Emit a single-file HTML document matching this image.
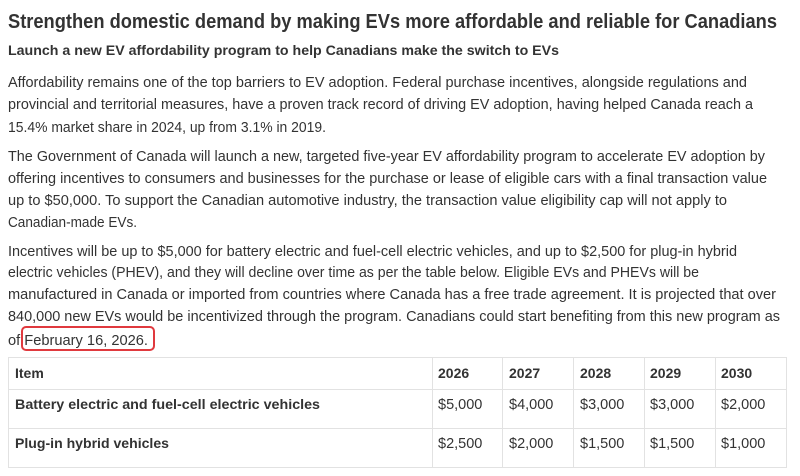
<!DOCTYPE html>
<html><head><meta charset="utf-8"><style>
html,body{margin:0;padding:0;background:#fff;width:800px;height:476px;overflow:hidden}
svg text{font-family:"Liberation Sans",sans-serif;fill:#333}
</style></head><body>
<svg width="800" height="476" xmlns="http://www.w3.org/2000/svg">
<text x="8" y="28" font-size="20" font-weight="bold" fill="#333" textLength="769" lengthAdjust="spacingAndGlyphs">Strengthen domestic demand by making EVs more affordable and reliable for Canadians</text>
<text x="8" y="55" font-size="14" font-weight="bold" textLength="551" lengthAdjust="spacingAndGlyphs">Launch a new EV affordability program to help Canadians make the switch to EVs</text>
<g font-size="14.5">
<text x="8" y="87" textLength="739" lengthAdjust="spacingAndGlyphs">Affordability remains one of the top barriers to EV adoption. Federal purchase incentives, alongside regulations and</text>
<text x="8" y="109" textLength="745" lengthAdjust="spacingAndGlyphs">provincial and territorial measures, have a proven track record of driving EV adoption, having helped Canada reach a</text>
<text x="8" y="132" textLength="318" lengthAdjust="spacingAndGlyphs">15.4% market share in 2024, up from 3.1% in 2019.</text>
<text x="8" y="161" textLength="757" lengthAdjust="spacingAndGlyphs">The Government of Canada will launch a new, targeted five-year EV affordability program to accelerate EV adoption by</text>
<text x="8" y="183" textLength="759" lengthAdjust="spacingAndGlyphs">offering incentives to consumers and businesses for the purchase or lease of eligible cars with a final transaction value</text>
<text x="8" y="205" textLength="719" lengthAdjust="spacingAndGlyphs">up to $50,000. To support the Canadian automotive industry, the transaction value eligibility cap will not apply to</text>
<text x="8" y="227" textLength="129" lengthAdjust="spacingAndGlyphs">Canadian-made EVs.</text>
<text x="8" y="256" textLength="729" lengthAdjust="spacingAndGlyphs">Incentives will be up to $5,000 for battery electric and fuel-cell electric vehicles, and up to $2,500 for plug-in hybrid</text>
<text x="8" y="277" textLength="691" lengthAdjust="spacingAndGlyphs">electric vehicles (PHEV), and they will decline over time as per the table below. Eligible EVs and PHEVs will be</text>
<text x="8" y="299" textLength="768" lengthAdjust="spacingAndGlyphs">manufactured in Canada or imported from countries where Canada has a free trade agreement. It is projected that over</text>
<text x="8" y="321" textLength="772" lengthAdjust="spacingAndGlyphs">840,000 new EVs would be incentivized through the program. Canadians could start benefiting from this new program as</text>
<text x="8" y="345" textLength="140" lengthAdjust="spacingAndGlyphs">of February 16, 2026.</text>
</g>
<rect x="22" y="327" width="132" height="23" rx="4" fill="none" stroke="#e0393e" stroke-width="2"/>
<g stroke="#e2e2e2" stroke-width="1" fill="none">
<rect x="8.5" y="357.5" width="778" height="110"/>
<line x1="8" y1="389.5" x2="787" y2="389.5"/>
<line x1="8" y1="428.5" x2="787" y2="428.5"/>
<line x1="432.5" y1="357" x2="432.5" y2="468"/>
<line x1="502.5" y1="357" x2="502.5" y2="468"/>
<line x1="573.5" y1="357" x2="573.5" y2="468"/>
<line x1="644.5" y1="357" x2="644.5" y2="468"/>
<line x1="715.5" y1="357" x2="715.5" y2="468"/>
</g>
<g font-size="14" font-weight="bold">
<text x="15" y="378">Item</text>
<text x="438" y="378">2026</text><text x="509" y="378">2027</text><text x="580" y="378">2028</text><text x="650" y="378">2029</text><text x="721" y="378">2030</text>
<text x="15" y="409" textLength="305" lengthAdjust="spacingAndGlyphs">Battery electric and fuel-cell electric vehicles</text>
<text x="15" y="448" textLength="154" lengthAdjust="spacingAndGlyphs">Plug-in hybrid vehicles</text>
</g>
<g font-size="14.5">
<text x="438" y="409">$5,000</text><text x="509" y="409">$4,000</text><text x="580" y="409">$3,000</text><text x="650" y="409">$3,000</text><text x="721" y="409">$2,000</text>
<text x="438" y="448">$2,500</text><text x="509" y="448">$2,000</text><text x="580" y="448">$1,500</text><text x="650" y="448">$1,500</text><text x="721" y="448">$1,000</text>
</g>
</svg>
</body></html>
